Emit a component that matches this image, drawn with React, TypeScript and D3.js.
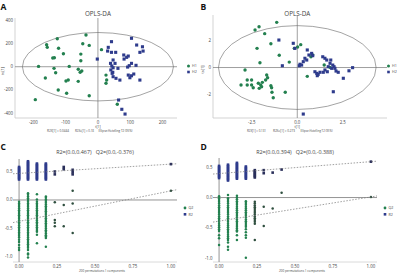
import React from "react";
import * as d3 from "d3";

// ---------- Panel A data (t[1], to[1]) ----------
const aGreenT = [-37, -126, -159, -157, -122, -47, -27, -107, -53, 11, -140, -135, -53, -184, -136, -89, -61, -50, -55, -131, -163, -92, -99, -61, -123, -97, -27, -194, 25, 27, 25, 60];
const aGreenTo = [273, 241, 190, 167, 159, 198, 184, 112, 109, 147, 75, 78, 52, 3, -14, 3, -22, -37, -48, -52, -97, -115, -123, -126, -201, -229, -250, -284, -72, -115, -143, -324];
const aBlueT = [42, 104, 120, 138, 140, 130, 32, 30, 42, 55, 80, 94, 89, -2, 47, 81, 39, 53, 104, 97, 118, 43, 47, 62, 92, 40, 46, 44, 47, 56, 94, 99, 104, 111, 130, 64, 74, 84, 68];
const aBlueTo = [216, 245, 187, 172, 135, 124, 167, 135, 124, 124, 101, 92, 81, 66, 58, 66, 29, 29, 29, 9, 12, 6, -9, -14, -3, -28, -48, -57, -86, -100, -72, -95, -78, -63, -115, -287, -367, -408, -115];
const aXTicks = [-200, -100, 0, 100, 200];
const aYTicks = [400, 200, 0, -200, -400];

// ---------- Panel B data ----------
const bGreenT = [-1.13, -2.1, -2.32, -1.79, -1.45, -2.21, -0.99, -2.05, -0.44, -0.16, 0.02, 0.19, 0.75, 0.85, 0.55, 1.8, 1.48, -2.87, -1.68, -1.63, -1.74, -2.75, -2.51, -3.09, -2.75, -2.51, -2.14, -2.01, -1.92, -1.96, -1.45, -1.41, -2.42, -2.09, -1.39, -1.32, -0.66];
const bGreenTo = [3.32, 3.0, 2.76, 2.49, 1.75, 1.41, 0.9, 0.35, 0.4, 1.41, 1.51, 1.68, 0.79, 0.92, -0.65, 0.01, 0.18, -0.18, -0.55, -0.75, -0.92, -0.92, -0.92, -1.29, -1.29, -1.29, -1.16, -1.29, -1.09, -1.41, -1.34, -1.49, -1.49, -1.53, -1.82, -2.22, -1.82];
const bBlueT = [-1.01, -0.22, -0.13, 0.55, 0.64, 0.79, 0.85, 0.42, 0.52, 0.33, 0.15, 0.24, 0.11, -0.82, 1.4, 1.52, 1.62, 1.84, 1.8, 1.95, 2.02, 1.7, 1.89, 2.07, 0.97, 1.07, 1.15, 1.25, 1.1, 1.52, 1.43, 1.65, 2.13, 2.25, 2.84, 3.04, 2.53, 1.98, 0.33];
const bBlueTo = [2.02, 1.78, 1.41, 1.29, 0.92, 1.04, 0.87, 0.68, 0.55, 0.43, 0.24, 0.18, 0.13, 0.13, 0.79, 0.68, 0.55, 0.55, 0.31, 0.18, 0.06, 0.06, -0.06, -0.06, -0.31, -0.43, -0.5, -0.35, -0.6, -0.18, -0.35, -0.31, -0.26, -0.35, -0.24, -0.01, -0.79, -1.78, -3.42];
const bXTicks = [-2.5, 0, 2.5];
const bYTicks = [2, 0, -2];

// ---------- Permutation data (C, D) ----------
const permX = [0, 0.0588, 0.1176, 0.1765, 0.2353, 0.2941, 0.3529, 0.4118, 1.0];
const cR2 = [
  [0.58, 0.56, 0.54, 0.52, 0.5, 0.48, 0.46, 0.44, 0.42, 0.4, 0.38, 0.36],
  [0.68, 0.66, 0.64, 0.62, 0.6, 0.58, 0.56, 0.54, 0.52, 0.5, 0.48, 0.46, 0.44, 0.42, 0.4, 0.38, 0.36],
  [0.64, 0.62, 0.6, 0.58, 0.56, 0.54, 0.52, 0.5, 0.48, 0.46, 0.44, 0.42, 0.4, 0.38, 0.36],
  [0.64, 0.62, 0.6, 0.58, 0.56, 0.54, 0.52, 0.5, 0.48, 0.46, 0.44, 0.42, 0.4, 0.38, 0.36],
  [0.5, 0.45],
  [0.58, 0.54],
  [0.53, 0.49, 0.45],
  [],
  [0.63],
];
const cQ2 = [
  [-0.03, -0.06, -0.09, -0.12, -0.15, -0.18, -0.21, -0.24, -0.27, -0.3, -0.33, -0.36, -0.39, -0.42, -0.45, -0.48, -0.51, -0.54, -0.57, -0.6, -0.63, -0.66, -0.7, -0.74, -0.79, -0.84, -0.88],
  [0.12, 0.09, 0.06, 0.03, 0.0, -0.03, -0.06, -0.09, -0.12, -0.15, -0.18, -0.21, -0.24, -0.27, -0.3, -0.33, -0.36, -0.39, -0.42, -0.45, -0.48, -0.51, -0.54, -0.57, -0.6, -0.63, -0.66, -0.69, -0.72, -0.75, -0.78, -0.81, -0.84, -0.88, -0.94, -0.96, -1.01],
  [0.1, 0.01, -0.03, -0.06, -0.09, -0.12, -0.15, -0.18, -0.21, -0.24, -0.27, -0.3, -0.33, -0.36, -0.39, -0.42, -0.45, -0.48, -0.51, -0.54, -0.56, -0.61, -0.76],
  [0.06, 0.04, 0.01, -0.02, -0.05, -0.08, -0.11, -0.14, -0.17, -0.2, -0.23, -0.26, -0.29, -0.32, -0.35, -0.38, -0.41, -0.44, -0.47, -0.5, -0.53, -0.56, -0.59, -0.62, -0.64, -0.67, -0.82],
  [-0.04, -0.35, -0.4, -0.46],
  [-0.09, -0.46],
  [0.16, -0.06, -0.58],
  [],
  [0.16],
];
const dR2 = [
  [0.52, 0.5, 0.48, 0.46, 0.44, 0.42, 0.4, 0.38, 0.36, 0.34, 0.32],
  [0.54, 0.52, 0.5, 0.48, 0.46, 0.44, 0.42, 0.4, 0.38, 0.36, 0.34, 0.32, 0.3, 0.28],
  [0.57, 0.55, 0.53, 0.51, 0.49, 0.47, 0.45, 0.43, 0.41, 0.39, 0.37, 0.35, 0.33, 0.31],
  [0.51, 0.49, 0.47, 0.45, 0.43, 0.41, 0.39, 0.37, 0.35, 0.33, 0.31],
  [0.45, 0.43, 0.41, 0.39, 0.37, 0.35, 0.33],
  [0.45, 0.4],
  [0.41],
  [0.46],
  [0.59],
];
const dQ2 = [
  [0.02, -0.01, -0.04, -0.07, -0.1, -0.13, -0.16, -0.19, -0.22, -0.25, -0.28, -0.31, -0.34, -0.37, -0.4, -0.43, -0.46, -0.49, -0.52, -0.55, -0.62, -0.67, -0.78],
  [0.04, -0.01, -0.04, -0.07, -0.1, -0.13, -0.16, -0.19, -0.22, -0.25, -0.28, -0.31, -0.34, -0.37, -0.4, -0.43, -0.46, -0.49, -0.52, -0.55, -0.58, -0.61, -0.64, -0.67, -0.7, -0.74, -0.81, -0.86],
  [0.03, 0.0, -0.03, -0.06, -0.09, -0.12, -0.15, -0.18, -0.21, -0.24, -0.27, -0.3, -0.33, -0.36, -0.39, -0.42, -0.45, -0.48, -0.51, -0.54, -0.56, -0.62, -0.7],
  [-0.06, -0.09, -0.12, -0.15, -0.18, -0.21, -0.24, -0.27, -0.3, -0.33, -0.36, -0.39, -0.42, -0.45, -0.48, -0.52, -0.57, -0.62, -0.66, -0.99],
  [-0.07, -0.1, -0.13, -0.16, -0.19, -0.22, -0.25, -0.28, -0.31, -0.34, -0.37, -0.4, -0.43, -0.7],
  [-0.15, -0.47],
  [-0.18],
  [0.08],
  [0.01],
];
const cIntercepts = [0.467, -0.376];
const dIntercepts = [0.394, -0.388];
const permXTicks = [0, 0.25, 0.5, 0.75, 1.0];
const permYTicks = [0.5, 0, -0.5, -1.0];

const GREEN = "#23804f";
const BLUE = "#2e3b8c";
const FONT = "'Open Sans', 'DejaVu Sans', sans-serif";
const TXT = "#444";

type StatText = { s: string; x: number; w: number };

type ScatterProps = {
  ox: number; label: string; xs: d3.ScaleLinear<number, number>; ys: d3.ScaleLinear<number, number>;
  gT: number[]; gTo: number[]; bT: number[]; bTo: number[]; xTicks: number[]; yTicks: number[];
  fmtX: (v: number) => string; erx: number; ery: number; stats: StatText[]; legend: string[];
};

function ScatterPanel(p: ScatterProps) {
  const [x0, x1] = p.xs.range();
  const [y0, y1] = p.ys.range();
  const cx = p.xs(0), cy = p.ys(0);
  return (
    <g>
      <text x={p.ox + 0.5} y={9.5} fontSize={8.5} fontWeight="bold" fontFamily={FONT} fill="#111">{p.label}</text>
      <text x={cx} y={16.3} fontSize={6.3} textAnchor="middle" fontFamily={FONT} fill={TXT}>OPLS-DA</text>
      <line x1={x0} x2={x0} y1={y1} y2={y0} stroke="#c8c8c8" strokeWidth={0.8} />
      <line x1={x0} x2={x1} y1={y0} y2={y0} stroke="#c8c8c8" strokeWidth={0.8} />
      <line x1={cx} x2={cx} y1={y1} y2={y0} stroke="#777" strokeWidth={0.7} />
      <line x1={x0} x2={x1} y1={cy} y2={cy} stroke="#777" strokeWidth={0.7} />
      <ellipse cx={cx} cy={cy} rx={p.xs(p.erx) - cx} ry={cy - p.ys(p.ery)} fill="none" stroke="#666" strokeWidth={0.6} />
      {p.gT.map((t, i) => (
        <circle key={"g" + i} cx={p.xs(t)} cy={p.ys(p.gTo[i])} r={1.7} fill={GREEN} />
      ))}
      {p.bT.map((t, i) => (
        <rect key={"b" + i} x={p.xs(t) - 1.55} y={p.ys(p.bTo[i]) - 1.55} width={3.1} height={3.1} fill={BLUE} />
      ))}
      {p.xTicks.map((t) => (
        <text key={"xt" + t} x={p.xs(t)} y={123.8} fontSize={4.4} textAnchor="middle" fontFamily={FONT} fill={TXT}>{p.fmtX(t)}</text>
      ))}
      {p.yTicks.map((t) => (
        <text key={"yt" + t} x={x0 - 2} y={p.ys(t) + 1.5} fontSize={4.4} textAnchor="end" fontFamily={FONT} fill={TXT}>{String(t)}</text>
      ))}
      <text x={cx} y={128} fontSize={3.4} textAnchor="middle" fontFamily={FONT} fill={TXT}>t[1]</text>
      <text transform={`translate(${p.ox + 4},${(y0 + y1) / 2 + 3}) rotate(-90)`} fontSize={3.6} textAnchor="middle" fontFamily={FONT} fill={TXT}>to[1]</text>
      {p.stats.map((st, i) => (
        <text key={"st" + i} x={p.ox + st.x} y={132.3} fontSize={3.3} fontFamily={FONT} fill={TXT}
          textLength={st.w} lengthAdjust="spacingAndGlyphs">{st.s}</text>
      ))}
      <circle cx={p.ox + 188.5} cy={66} r={1.5} fill={GREEN} />
      <text x={p.ox + 192} y={67.3} fontSize={3.6} fontFamily={FONT} fill={TXT}>{p.legend[0]}</text>
      <rect x={p.ox + 187.2} y={70.7} width={2.6} height={2.6} fill={BLUE} />
      <text x={p.ox + 192} y={73.3} fontSize={3.6} fontFamily={FONT} fill={TXT}>{p.legend[1]}</text>
    </g>
  );
}

type PermProps = {
  ox: number; label: string; xs: d3.ScaleLinear<number, number>; ys: d3.ScaleLinear<number, number>;
  r2: number[][]; q2: number[][]; icpt: number[]; title: string;
};

function PermPanel(p: PermProps) {
  const [x0, x1] = p.xs.range();
  const [y0, y1] = p.ys.range();
  const lastR2 = p.r2[p.r2.length - 1][0];
  const lastQ2 = p.q2[p.q2.length - 1][0];
  const [d0, d1] = p.xs.domain();
  const r2Line = (v: number) => p.icpt[0] + (lastR2 - p.icpt[0]) * v;
  const q2Line = (v: number) => p.icpt[1] + (lastQ2 - p.icpt[1]) * v;
  const r2Path = d3.line<number>().x((v) => p.xs(v)).y((v) => p.ys(r2Line(v)))([d0, d1]) || "";
  const q2Path = d3.line<number>().x((v) => p.xs(v)).y((v) => p.ys(q2Line(v)))([d0, d1]) || "";
  return (
    <g>
      <text x={p.ox + 0.5} y={150} fontSize={8.5} fontWeight="bold" fontFamily={FONT} fill="#111">{p.label}</text>
      <text x={p.ox + 95} y={154} fontSize={5.4} textAnchor="middle" fontFamily={FONT} fill={TXT} style={{ whiteSpace: "pre" }}>{p.title}</text>
      <line x1={x0} x2={x1} y1={y0} y2={y0} stroke="#d0d0d0" strokeWidth={0.8} />
      <line x1={p.xs(0)} x2={p.xs(0)} y1={y1} y2={y0} stroke="#888" strokeWidth={0.9} />
      <line x1={x0} x2={x1} y1={p.ys(0)} y2={p.ys(0)} stroke="#888" strokeWidth={0.9} />
      {p.q2.map((col, i) =>
        col.map((v, j) => (
          <circle key={`q${i}-${j}`} cx={p.xs(permX[i])} cy={p.ys(v)} r={1.25} fill={i >= 4 ? "#2f4f3f" : GREEN} />
        ))
      )}
      {p.r2.map((col, i) =>
        col.map((v, j) => (
          <rect key={`r${i}-${j}`} x={p.xs(permX[i]) - 1.3} y={p.ys(v) - 1.3} width={2.6} height={2.6} fill={i >= 4 ? "#2a2f5a" : BLUE} />
        ))
      )}
      <path d={r2Path} stroke="#777" strokeWidth={0.7} strokeDasharray="1.5,1.5" fill="none" />
      <path d={q2Path} stroke="#777" strokeWidth={0.7} strokeDasharray="1.5,1.5" fill="none" />
      {permXTicks.map((t) => (
        <text key={"xt" + t} x={p.xs(t)} y={267.8} fontSize={4.4} textAnchor="middle" fontFamily={FONT} fill={TXT}>{t.toFixed(2)}</text>
      ))}
      {permYTicks.map((t) => (
        <text key={"yt" + t} x={x0 - 0.5} y={p.ys(t) + 1.5} fontSize={4.4} textAnchor="end" fontFamily={FONT} fill={TXT}>{t.toFixed(1)}</text>
      ))}
      <text x={p.ox + 79} y={272.3} fontSize={3.4} fontFamily={FONT} fill={TXT} textLength={46} lengthAdjust="spacingAndGlyphs">200 permutations 1 components</text>
      <circle cx={p.ox + 185} cy={208} r={1.4} fill={GREEN} />
      <text x={p.ox + 188.5} y={209.3} fontSize={3.6} fontFamily={FONT} fill={TXT}>Q2</text>
      <rect x={p.ox + 183.7} y={213} width={2.6} height={2.6} fill={BLUE} />
      <text x={p.ox + 188.5} y={215.6} fontSize={3.6} fontFamily={FONT} fill={TXT}>R2</text>
    </g>
  );
}

export default function App() {
  const axs = d3.scaleLinear().domain([-257, 245]).range([15, 177]);
  const ays = d3.scaleLinear().domain([-442, 420]).range([118, 18]);
  const bxs = d3.scaleLinear().domain([-4.63, 4.93]).range([213, 387]);
  const bys = d3.scaleLinear().domain([-3.71, 3.86]).range([118, 15]);
  const cxs = d3.scaleLinear().domain([-0.04, 1.04]).range([13, 177]);
  const cys = d3.scaleLinear().domain([-1.09, 0.72]).range([262, 159]);
  const dxs = d3.scaleLinear().domain([-0.04, 1.04]).range([213, 377]);
  const dys = d3.scaleLinear().domain([-1.06, 0.65]).range([262, 158]);
  return (
    <svg width={400} height={274} style={{ position: "absolute", left: 0, top: 0, background: "#fff" }}>
      <rect width={400} height={274} fill="#fff" />
      <ScatterPanel ox={0} label="A" xs={axs} ys={ays} gT={aGreenT} gTo={aGreenTo} bT={aBlueT} bTo={aBlueTo}
        xTicks={aXTicks} yTicks={aYTicks} fmtX={(v) => String(v)} erx={234} ery={295}
        stats={[{ s: "R2X[1] = 0.0444", x: 47, w: 22 }, { s: "R2Xo[1] = 0.18", x: 75, w: 19 }, { s: "Ellipse:Hotelling T2 (95%)", x: 98.5, w: 34 }]}
        legend={["H1", "H2"]} />
      <ScatterPanel ox={200} label="B" xs={bxs} ys={bys} gT={bGreenT} gTo={bGreenTo} bT={bBlueT} bTo={bBlueTo}
        xTicks={bXTicks} yTicks={bYTicks} fmtX={(v) => v.toFixed(1)} erx={4.33} ery={3.08}
        stats={[{ s: "R2X[1] = 0.131", x: 47, w: 19 }, { s: "R2Xo[1] = 0.273", x: 73, w: 22 }, { s: "Ellipse:Hotelling T2 (95%)", x: 100.5, w: 32 }]}
        legend={["H1", "H2"]} />
      <PermPanel ox={0} label="C" xs={cxs} ys={cys} r2={cR2} q2={cQ2} icpt={cIntercepts} title="R2=(0.0,0.467)   Q2=(0.0,-0.376)" />
      <PermPanel ox={200} label="D" xs={dxs} ys={dys} r2={dR2} q2={dQ2} icpt={dIntercepts} title="R2=(0.0,0.394)   Q2=(0.0,-0.388)" />
    </svg>
  );
}
